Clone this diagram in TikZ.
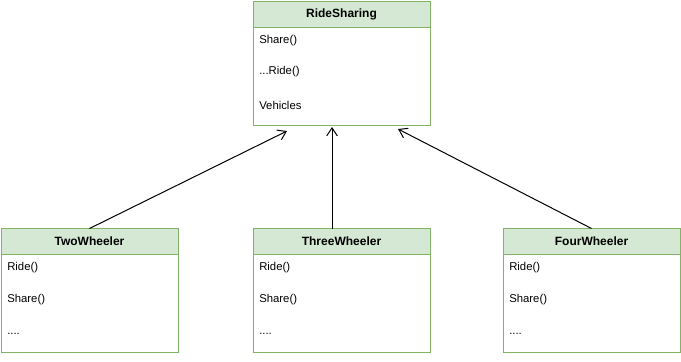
\documentclass[tikz,border=0pt]{standalone}
\usepackage{fontspec}
\setmainfont{Liberation Sans}
\usetikzlibrary{arrows.meta, positioning, calc}
\definecolor{boxgreen}{HTML}{82B366}
\definecolor{headgreen}{HTML}{D5E8D4}

\begin{document}
\begin{tikzpicture}[x=0.75pt, y=-0.75pt,
    head/.style={rectangle, draw=boxgreen, fill=headgreen, line width=0.75pt, minimum width=132.75pt, minimum height=19.5pt, inner sep=0pt, outer sep=0pt, font=\fontsize{9}{11}\selectfont\bfseries},
    body/.style={rectangle, draw=boxgreen, fill=white, line width=0.75pt, minimum width=132.75pt, minimum height=73.5pt, inner sep=0pt, outer sep=0pt},
    item/.style={anchor=west, inner sep=0pt, font=\fontsize{8.5}{10}\selectfont},
    inherit/.style={-{Straight Barb[length=6pt, width=8pt]}, line width=0.75pt},
    node distance=0pt
]
    \useasboundingbox (0,0) rectangle (681,361);

    % Parent class
    \node[head] (rs) at (341.5,14) {RideSharing};
    \node[body, below=of rs] (rsbody) {};
    \node[item] (rs1) at ($(rsbody.north west)+(6,14)$) {Share()};
    \node[item] (rs2) at ($(rsbody.north west)+(6,45)$) {...Ride()};
    \node[item] (rs3) at ($(rsbody.north west)+(6,78)$) {Vehicles};

    % Child classes
    \foreach \name/\x/\title in {two/89.5/TwoWheeler, three/341.5/ThreeWheeler, four/591.5/FourWheeler} {
        \node[head] (\name) at (\x,241.5) {\title};
        \node[body, below=of \name] (\name body) {};
        \node[item] (\name 1) at ($(\name body.north west)+(6,13.5)$) {Ride()};
        \node[item] (\name 2) at ($(\name body.north west)+(6,45)$) {Share()};
        \node[item] (\name 3) at ($(\name body.north west)+(6,79)$) {....};
    }

    % Arrow ends below the parent
    \coordinate (twoend) at (287,131);
    \coordinate (threeend) at (332,127);
    \coordinate (fourend) at (398,129);
    \coordinate (threestart) at ($(three.north)+(-9.5,0)$);

    % Inheritance arrows
    \draw[inherit] (two.north) -- (twoend);
    \draw[inherit] (threestart) -- (threeend);
    \draw[inherit] (four.north) -- (fourend);

\end{tikzpicture}
\end{document}
